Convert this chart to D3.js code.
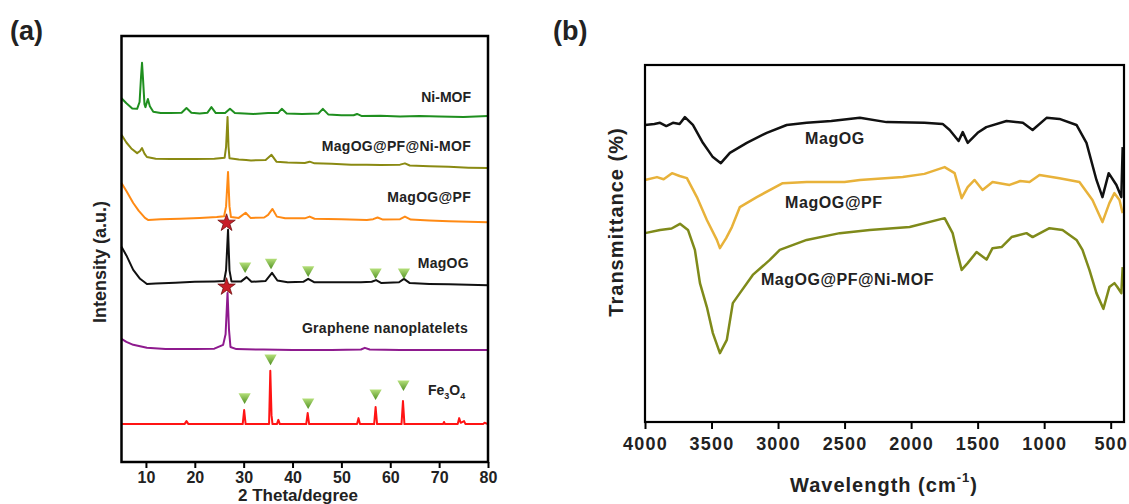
<!DOCTYPE html>
<html>
<head>
<meta charset="utf-8">
<script src="https://cdn.jsdelivr.net/npm/d3@7"></script>
<style>
    body { margin: 0; background: #fff; }
    text { font-family: Arial, "Liberation Sans", sans-serif; }
</style>
</head>
<body>
<div id="main"></div>
<script>
// ---- panel (a): XRD, [2theta, intensity a.u.] ----
const niMOF = [[5, 85.4], [6, 84.2], [7.2, 83.0], [8.2, 82.9], [8.7, 84.5], [9.0, 90.5], [9.2, 93.7], [9.4, 90], [9.7, 84], [9.9, 83.3], [10.4, 85.2], [10.8, 83.5], [11.5, 82.2], [13, 81.9], [15, 81.9], [17.3, 82.0], [18.3, 83.1], [19.3, 82.0], [21, 81.8], [22.6, 82.0], [23.4, 83.3], [24.3, 81.9], [26.2, 81.9], [27.2, 82.9], [28.2, 81.9], [32, 81.7], [35, 81.9], [37, 81.9], [37.8, 82.9], [38.8, 81.8], [42, 81.7], [45.3, 81.8], [46.2, 82.9], [47.3, 81.6], [50, 81.4], [52.5, 81.4], [53.2, 81.7], [54.2, 81.2], [58, 81.3], [62, 81.1], [66, 81.2], [70, 81.1], [75, 81.0], [80, 81.2]];
const magPFNi = [[5, 76.8], [6, 75.0], [7, 73.6], [8.2, 72.5], [8.8, 73.0], [9.2, 73.7], [9.7, 72.4], [10.2, 71.6], [12, 71.2], [15, 71.1], [20, 71.1], [24, 71.2], [26.1, 71.4], [26.4, 74], [26.7, 81.0], [26.9, 74], [27.1, 71.3], [29, 71.0], [30.5, 70.9], [31.5, 70.8], [34.5, 70.9], [35.7, 72.1], [36.7, 70.5], [39, 70.3], [42.5, 70.2], [43.5, 70.5], [44.5, 70.1], [48, 70.0], [52, 69.8], [55.2, 69.8], [58, 69.7], [62, 69.8], [63, 70.1], [64, 69.6], [68, 69.4], [72, 69.3], [76, 69.1], [80, 69.0]];
const magPF = [[5, 65.5], [6, 63.6], [7.4, 60.8], [8.5, 59.0], [9.8, 57.3], [10.5, 56.8], [13, 57.0], [17, 57.1], [21, 57.3], [24.5, 57.5], [26.0, 57.7], [26.4, 60], [26.8, 68.1], [27.1, 60], [27.4, 57.5], [29, 57.3], [30.4, 58.5], [31.4, 57.3], [34.2, 57.4], [35.0, 58.0], [35.9, 59.4], [36.8, 57.6], [38.5, 57.2], [42.5, 57.2], [43.5, 57.6], [44.5, 57.1], [50, 57.0], [55.2, 56.8], [56.5, 57.0], [57.4, 57.4], [58.5, 56.9], [62, 57.0], [63, 57.6], [64.2, 56.9], [68, 56.7], [72, 56.5], [76, 56.4], [80, 56.3]];
const magOG = [[5, 50.5], [6, 48.5], [7.4, 45.1], [8.8, 43.0], [10.2, 41.8], [12, 41.9], [16, 42.1], [20, 42.3], [24, 42.4], [26.0, 42.5], [26.4, 45], [26.8, 54.5], [27.1, 45], [27.5, 42.4], [29.5, 42.4], [30.6, 43.4], [31.6, 42.3], [34.5, 42.5], [35.8, 44.4], [36.9, 42.6], [39, 42.2], [42.2, 42.3], [43.2, 43.0], [44.4, 42.2], [48, 42.2], [54, 42.2], [56.2, 42.3], [57.1, 42.7], [58.2, 42.0], [61.8, 42.2], [62.8, 43.0], [64, 42.0], [68, 41.8], [72, 41.7], [76, 41.6], [80, 41.5]];
const graphene = [[5, 28.9], [6, 28.2], [7.4, 27.5], [10.2, 26.8], [14, 26.5], [20, 26.5], [24, 26.6], [25.8, 27.5], [26.3, 30], [26.7, 39.7], [27.0, 31], [27.3, 27.0], [28.5, 26.5], [34, 26.4], [40, 26.3], [48, 26.3], [54, 26.4], [54.8, 26.8], [55.8, 26.4], [62, 26.3], [70, 26.3], [80, 26.3]];
const fe3o4 = [[5, 8.9], [17.9, 8.9], [18.3, 9.6], [18.7, 8.9], [29.8, 8.9], [30.1, 12.2], [30.4, 8.9], [35.2, 8.9], [35.45, 21.4], [35.7, 11], [35.9, 8.9], [36.8, 8.9], [37.1, 9.9], [37.4, 8.9], [42.8, 8.9], [43.1, 11.5], [43.4, 8.9], [53.2, 8.9], [53.5, 10.3], [53.8, 8.9], [56.7, 8.9], [57.0, 12.9], [57.3, 8.9], [62.3, 8.9], [62.6, 14.3], [62.9, 8.9], [70.8, 8.9], [71.0, 9.4], [71.2, 8.9], [73.8, 8.9], [74.1, 10.3], [74.4, 9.2], [75.1, 9.6], [75.4, 8.9], [79, 8.9], [79.3, 9.2], [80, 8.9]];
const triMagOG = [[30.3, 46.0], [35.6, 46.9], [43.2, 45.1], [57.0, 44.6], [62.8, 44.6]];
const triFe = [[30.2, 15.3], [35.5, 24.4], [43.2, 14.1], [57.0, 16.2], [62.7, 18.3]];
const stars = [[26.5, 56.1], [26.5, 41.1]];
const ticksA = [10, 20, 30, 40, 50, 60, 70, 80];

// ---- panel (b): FTIR, [wavenumber, transmittance] ----
const ftMagOG = [[4000, 83.2], [3930, 83.5], [3887, 83.8], [3840, 82.9], [3790, 83.8], [3740, 83.5], [3700, 85.4], [3640, 83.2], [3565, 78.2], [3490, 74.2], [3430, 72.5], [3362, 75.4], [3235, 78.2], [3085, 81.0], [2935, 83.2], [2785, 83.8], [2600, 84.3], [2385, 85.2], [2185, 84.0], [1900, 83.8], [1763, 83.5], [1710, 81.8], [1643, 78.7], [1612, 81.2], [1575, 78.2], [1500, 81.0], [1435, 82.6], [1283, 84.3], [1160, 83.8], [1087, 81.8], [982, 85.2], [885, 84.9], [757, 83.2], [682, 78.2], [607, 67.8], [562, 63.0], [515, 69.7], [457, 66.4], [420, 63.0], [410, 77.0]];
const ftMagPF = [[4000, 67.8], [3910, 68.6], [3860, 68.0], [3797, 69.7], [3740, 68.9], [3685, 68.3], [3610, 63.0], [3535, 56.6], [3460, 51.0], [3437, 48.7], [3390, 51.5], [3347, 54.6], [3287, 60.2], [3160, 63.0], [2965, 66.9], [2785, 67.2], [2500, 67.2], [2385, 67.8], [2063, 68.6], [1900, 69.5], [1748, 71.4], [1673, 69.7], [1620, 62.7], [1575, 65.8], [1523, 67.8], [1463, 65.0], [1388, 67.2], [1260, 66.4], [1180, 67.5], [1110, 67.2], [1035, 69.2], [885, 68.3], [735, 67.2], [637, 62.2], [562, 56.0], [510, 61.3], [472, 64.1], [434, 62.2], [410, 58.5]];
const ftMagPFNi = [[4000, 52.9], [3887, 53.8], [3800, 54.2], [3737, 55.5], [3677, 53.8], [3625, 48.2], [3587, 38.9], [3535, 32.2], [3490, 24.9], [3437, 19.3], [3385, 23.0], [3340, 33.3], [3287, 36.1], [3190, 41.2], [3062, 45.4], [2987, 48.2], [2785, 51.0], [2536, 52.9], [2311, 53.8], [2011, 54.6], [1748, 57.1], [1688, 52.9], [1658, 48.2], [1620, 42.6], [1575, 44.5], [1508, 47.6], [1433, 45.5], [1388, 48.7], [1320, 49.0], [1245, 51.8], [1133, 52.9], [1087, 51.8], [960, 54.3], [862, 53.8], [757, 51.0], [712, 48.2], [660, 42.6], [607, 36.1], [555, 31.7], [510, 37.8], [472, 38.9], [450, 37.8], [420, 36.1], [410, 43.4]];
const ticksB = [4000, 3500, 3000, 2500, 2000, 1500, 1000, 500];

const width = 1129, height = 504;
let svg = d3.select("#main").append("svg").attr("width", width).attr("height", height);

let xA = d3.scaleLinear().domain([5, 80]).range([121.5, 488]);
let yA = d3.scaleLinear().domain([0, 100]).range([462, 36]);
let xB = d3.scaleLinear().domain([4000, 400]).range([645, 1124]);
let yB = d3.scaleLinear().domain([0, 100]).range([422, 65]);

// green gradient for the triangle markers
let grad = svg.append("defs").append("linearGradient")
    .attr("id", "tri").attr("x1", 0).attr("y1", 0).attr("x2", 0).attr("y2", 1);
grad.append("stop").attr("offset", "0%").attr("stop-color", "#4f8f22");
grad.append("stop").attr("offset", "100%").attr("stop-color", "#b5e07a");

function drawLine(g, data, x, y, color, w) {
    g.append("path")
        .datum(data)
        .attr("fill", "none")
        .attr("stroke", color)
        .attr("stroke-width", w)
        .attr("stroke-linejoin", "round")
        .attr("d", d3.line()
            .x(function (d) { return x(d[0]); })
            .y(function (d) { return y(d[1]); })
        );
}

function label(g, txt, x, y, size, anchor, spacing) {
    return g.append("text")
        .attr("x", x).attr("y", y)
        .attr("text-anchor", anchor)
        .attr("font-size", size)
        .attr("font-weight", "bold")
        .attr("letter-spacing", spacing || 0)
        .attr("fill", "#222")
        .text(txt);
}

function drawA() {
    let g = svg.append("g");

    drawLine(g, fe3o4, xA, yA, "#ff1414", 2);
    drawLine(g, graphene, xA, yA, "#8e1a8e", 2);
    drawLine(g, magOG, xA, yA, "#111", 2);
    drawLine(g, magPF, xA, yA, "#ff8a14", 2);
    drawLine(g, magPFNi, xA, yA, "#8a8a12", 2);
    drawLine(g, niMOF, xA, yA, "#1f8f1f", 2);

    // triangles
    g.selectAll(".tri").data(triMagOG.concat(triFe)).enter().append("path")
        .attr("class", "tri")
        .attr("d", d3.symbol(d3.symbolTriangle, 65))
        .attr("transform", function (d) { return "translate(" + xA(d[0]) + "," + yA(d[1]) + ") rotate(180)"; })
        .attr("fill", "url(#tri)");

    // stars
    g.selectAll(".star").data(stars).enter().append("path")
        .attr("class", "star")
        .attr("d", d3.symbol(d3.symbolStar, 95))
        .attr("transform", function (d) { return "translate(" + xA(d[0]) + "," + yA(d[1]) + ")"; })
        .attr("fill", "#c81e28")
        .attr("stroke", "#6e1010")
        .attr("stroke-width", 0.8);

    // frame
    g.append("rect")
        .attr("x", xA.range()[0]).attr("y", yA.range()[1])
        .attr("width", xA.range()[1] - xA.range()[0])
        .attr("height", yA.range()[0] - yA.range()[1])
        .attr("fill", "none").attr("stroke", "#000").attr("stroke-width", 2.5);

    let ax = g.append("g").attr("transform", "translate(0," + yA.range()[0] + ")");
    ax.call(d3.axisBottom(xA).tickValues(d3.range(15, 80, 10)).tickSize(4).tickFormat(""));
    ax.call(d3.axisBottom(xA).tickValues(ticksA).tickSize(6).tickFormat(d3.format("d")).tickPadding(4));
    ax.select(".domain").remove();
    ax.selectAll("line").attr("stroke", "#000").attr("stroke-width", 2);
    ax.selectAll("text").attr("font-size", 16).attr("font-weight", "bold").attr("fill", "#222");

    label(g, "2 Theta/degree", 298, 501, 17, "middle");
    label(g, "Intensity (a.u.)", 0, 0, 18, "middle")
        .attr("transform", "translate(106,262) rotate(-90)");
    label(g, "(a)", 10, 40, 27, "start");

    label(g, "Ni-MOF", 471, 102, 14, "end");
    label(g, "MagOG@PF@Ni-MOF", 471, 151, 14, "end", 0.3);
    label(g, "MagOG@PF", 471, 202, 14, "end", 0.3);
    label(g, "MagOG", 469, 268, 14, "end", 0.3);
    label(g, "Graphene nanoplatelets", 468, 333, 14, "end", 0.3);

    let fe = label(g, "", 428, 395, 14, "start");
    fe.append("tspan").text("Fe");
    fe.append("tspan").attr("font-size", 9).attr("dy", 4).text("3");
    fe.append("tspan").attr("dy", -4).text("O");
    fe.append("tspan").attr("font-size", 9).attr("dy", 4).text("4");
}

function drawB() {
    let g = svg.append("g");

    drawLine(g, ftMagPFNi, xB, yB, "#7f8a1a", 2.5);
    drawLine(g, ftMagPF, xB, yB, "#e8b23a", 2.5);
    drawLine(g, ftMagOG, xB, yB, "#111", 2.5);

    g.append("rect")
        .attr("x", xB.range()[0]).attr("y", yB.range()[1])
        .attr("width", xB.range()[1] - xB.range()[0])
        .attr("height", yB.range()[0] - yB.range()[1])
        .attr("fill", "none").attr("stroke", "#000").attr("stroke-width", 2.2);

    let ax = g.append("g").attr("transform", "translate(0," + yB.range()[0] + ")");
    ax.call(d3.axisBottom(xB).tickValues(d3.range(3750, 400, -500)).tickSize(4).tickFormat(""));
    ax.call(d3.axisBottom(xB).tickValues(ticksB).tickSize(7).tickFormat(d3.format("d")).tickPadding(8));
    ax.select(".domain").remove();
    ax.selectAll("line").attr("stroke", "#000").attr("stroke-width", 2);
    ax.selectAll("text").attr("font-size", 18).attr("font-weight", "bold")
        .attr("letter-spacing", 1.2).attr("fill", "#222");

    let t = label(g, "Wavelength (cm", 884, 492, 20, "middle", 1);
    t.append("tspan").attr("font-size", 13).attr("dy", -10).text("-1");
    t.append("tspan").attr("dy", 10).text(")");

    label(g, "Transmittance (%)", 0, 0, 20, "middle", 1)
        .attr("transform", "translate(623,222) rotate(-90)");
    label(g, "(b)", 553, 40, 27, "start");

    label(g, "MagOG", 805, 144, 16, "start", 0.6);
    label(g, "MagOG@PF", 785, 208, 16, "start", 0.6);
    label(g, "MagOG@PF@Ni-MOF", 761, 285, 16, "start", 0.5);
}

drawA();
drawB();
</script>
</body>
</html>
